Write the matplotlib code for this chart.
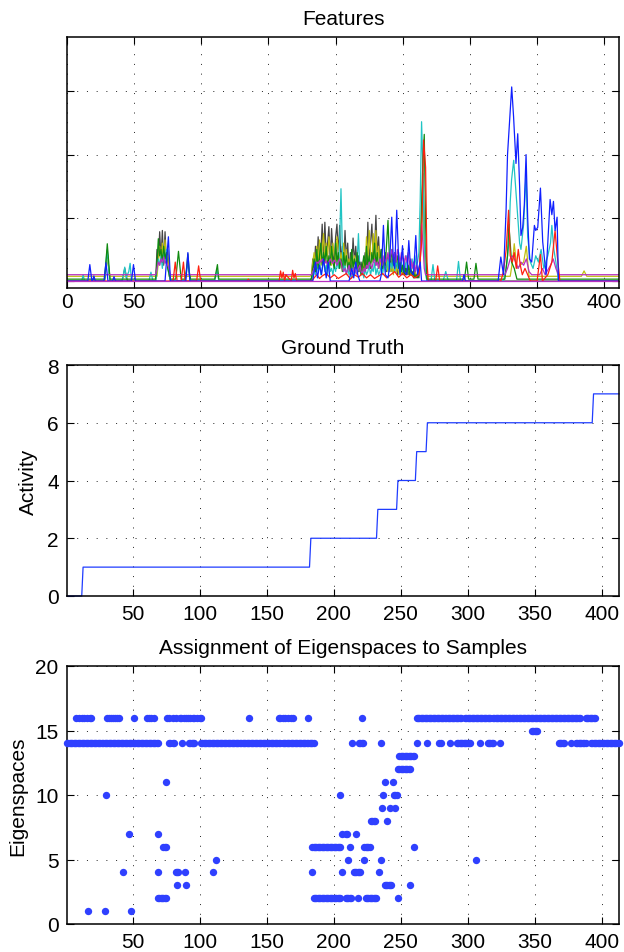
import numpy as np
import matplotlib
matplotlib.use('Agg')
import matplotlib.pyplot as plt

plt.rcParams['font.family'] = ['Liberation Sans', 'DejaVu Sans']

# ---------------- DATA ----------------
# Features panel (arbitrary units; grid lines at 1, 2, 3)
cluster_x = list(range(182, 269))

gray_early = [(0, 0), (28, 0), (30, 0.45), (32, 0), (41, 0), (43, 0.2), (45, 0), (66, 0), (67, 0.5), (68, 0.3),
              (69, 0.78), (70, 0.35), (71, 0.8), (72, 0.25), (73, 0.78), (74, 0.3), (75, 0.5), (76, 0.15),
              (77, 0), (181, 0)]
gray_cluster = [0.05, 0.35, 0.15, 0.55, 0.25, 0.7, 0.3, 0.45, 0.9, 0.35,
                0.93, 0.4, 0.6, 0.86, 0.3, 0.83, 0.45, 0.25, 0.7, 0.9,
                0.4, 0.88, 0.3, 0.55, 0.2, 0.8, 0.35, 0.6, 0.15, 0.45,
                0.2, 0.68, 0.3, 0.55, 0.2, 0.4, 0.15, 0.3, 0.1, 0.25,
                0.45, 0.2, 0.93, 0.3, 0.6, 0.9, 0.35, 0.5, 1.04, 0.4,
                0.7, 0.25, 0.5, 0.2, 0.35, 0.45, 0.15, 0.4, 0.2, 0.35,
                0.15, 0.4, 0.2, 0.3, 0.1, 0.35, 0.15, 0.25, 0.1, 0.3,
                0.1, 0.2, 0.1, 0.25, 0.1, 0.15, 0.05, 0.2, 0.05, 0.1,
                0.05, 0.3, 0.9, 1.7, 0.8, 0.3, 0.05]
gray_late = [(269, 0), (412, 0)]

olive_early = [(0, 0.075), (28, 0.075), (30, 0.35), (32, 0.075), (67, 0.075), (68, 0.3), (69, 0.55), (70, 0.3),
               (71, 0.6), (72, 0.35), (73, 0.65), (74, 0.3), (75, 0.4), (76, 0.075), (181, 0.075)]
olive_cluster = [0.1, 0.3, 0.45, 0.2, 0.55, 0.3, 0.65, 0.25, 0.5, 0.75,
                 0.3, 0.6, 0.35, 0.7, 0.5, 0.25, 0.6, 0.4, 0.3, 0.7,
                 0.5, 0.2, 0.45, 0.3, 0.6, 0.25, 0.5, 0.2, 0.35, 0.15,
                 0.45, 0.25, 0.4, 0.2, 0.3, 0.15, 0.25, 0.1, 0.2, 0.35,
                 0.15, 0.7, 0.3, 0.8, 0.45, 0.3, 0.75, 0.35, 0.8, 0.3,
                 0.55, 0.2, 0.4, 0.15, 0.3, 0.2, 0.35, 0.15, 0.3, 0.15,
                 0.25, 0.1, 0.3, 0.15, 0.25, 0.1, 0.2, 0.1, 0.2, 0.1,
                 0.15, 0.1, 0.2, 0.1, 0.15, 0.1, 0.1, 0.15, 0.1, 0.1,
                 0.1, 0.4, 1.0, 1.3, 0.6, 0.2, 0.1]
olive_late = [(269, 0.075), (330, 0.075), (332, 0.35), (333, 0.59), (335, 0.2), (340, 0.3), (342, 0.55),
              (344, 0.075), (383, 0.075), (385, 0.16), (387, 0.075), (412, 0.075)]

green_early = [(0, 0.03), (28, 0.03), (30, 0.59), (32, 0.03), (66, 0.03), (67, 0.3), (68, 0.67), (69, 0.4),
               (70, 0.5), (71, 0.3), (72, 0.55), (73, 0.35), (74, 0.45), (75, 0.2), (77, 0.03), (81, 0.03),
               (83, 0.47), (85, 0.03), (88, 0.03), (89, 0.2), (90, 0.43), (91, 0.15), (92, 0.03), (110, 0.03),
               (111, 0.15), (112, 0.26), (113, 0.03), (181, 0.03)]
green_cluster = [0.03, 0.2, 0.35, 0.15, 0.5, 0.2, 0.4, 0.6, 0.25, 0.45,
                 0.3, 0.55, 0.2, 0.4, 0.25, 0.55, 0.3, 0.2, 0.6, 0.3,
                 0.45, 0.2, 0.35, 0.15, 0.45, 0.25, 0.4, 0.2, 0.3, 0.15,
                 0.5, 0.2, 0.35, 0.2, 0.45, 0.15, 0.3, 0.1, 0.25, 0.4,
                 0.2, 0.55, 0.25, 0.4, 0.2, 0.45, 0.3, 0.6, 0.25, 0.45,
                 0.2, 0.35, 0.5, 0.2, 0.35, 0.25, 0.6, 0.96, 0.4, 0.3,
                 0.5, 0.25, 0.45, 0.3, 0.4, 0.2, 0.3, 0.15, 0.25, 0.1,
                 0.2, 0.1, 0.25, 0.1, 0.2, 0.1, 0.15, 0.05, 0.1, 0.05,
                 0.1, 0.4, 1.2, 1.9, 2.32, 0.9, 0.03]
green_late = [(269, 0.03), (296, 0.03), (297.5, 0.3), (299, 0.03), (303, 0.03), (304.5, 0.28), (306, 0.03),
              (326, 0.03), (328, 0.4), (329, 0.9), (331, 0.3), (333, 0.2), (335, 0.03), (412, 0.03)]

cyan_early = [(0, 0), (11, 0), (12, 0.1), (13, 0), (19, 0), (20, 0.06), (21, 0), (28, 0), (29, 0.3), (30, 0.5),
              (31, 0.2), (32, 0), (41, 0), (42, 0.1), (43, 0.22), (44, 0.05), (45, 0.1), (46, 0.15), (47, 0.28),
              (48, 0), (61, 0), (62.5, 0.14), (64, 0), (66, 0), (67, 0.2), (68, 0.35), (69, 0.25), (70, 0.4),
              (71, 0.2), (72, 0.45), (73, 0.3), (74, 0.5), (75, 0.2), (76, 0.1), (77, 0), (88, 0), (89, 0.15),
              (90, 0.3), (91, 0.1), (92, 0), (110, 0), (111.7, 0.18), (113, 0), (181, 0)]
cyan_cluster = [0, 0.1, 0.2, 0.1, 0.25, 0.15, 0.3, 0.1, 0.2, 0.35,
                0.15, 0.25, 0.1, 0.3, 0.15, 0.2, 0.1, 0.25, 0.15, 0.3,
                0.2, 0.6, 1.46, 0.5, 0.15, 0.25, 0.1, 0.2, 0.1, 0.15,
                0.05, 0.2, 0.1, 0.15, 0.3, 0.75, 0.2, 0.1, 0.15, 0.05,
                0.2, 0.1, 0.15, 0.25, 0.1, 0.2, 0.15, 0.3, 0.1, 0.2,
                0.1, 0.15, 0.25, 0.1, 0.3, 0.15, 0.2, 0.35, 0.15, 0.3,
                0.2, 0.4, 0.15, 0.35, 0.2, 0.45, 0.25, 0.3, 0.15, 0.35,
                0.2, 0.4, 0.15, 0.3, 0.2, 0.35, 0.15, 0.4, 0.25, 0.3,
                0.45, 1.3, 2.52, 1.8, 0.6, 0.1, 0]
cyan_late = [(269, 0), (271, 0), (272.5, 0.26), (274, 0), (280, 0), (282, 0.15), (284, 0), (290, 0),
             (291.5, 0.31), (293, 0), (325, 0), (327, 0.2), (329, 0.6), (330, 1.25), (331, 1.6), (332.6, 1.91),
             (334, 1.5), (336, 0.9), (337, 0.6), (338, 0.5), (340, 0.9), (341.8, 1.7), (343, 0.7), (345, 0.3),
             (347, 0.2), (349, 0.4), (351, 0.3), (353, 0.5), (355, 0.2), (358, 0.4), (360, 0.6), (361, 0.88),
             (362.5, 0.5), (364, 0.3), (366, 0), (412, 0)]

magenta_early = [(0, 0.1), (66, 0.1), (67, 0.2), (68, 0.3), (69, 0.25), (70, 0.35), (71, 0.3), (72, 0.38),
                 (73, 0.28), (74, 0.33), (75, 0.25), (76, 0.2), (77, 0.1), (181, 0.1)]
magenta_cluster = [0.1, 0.15, 0.2, 0.25, 0.3, 0.28, 0.32, 0.3, 0.35, 0.3,
                   0.28, 0.32, 0.25, 0.3, 0.35, 0.3, 0.28, 0.33, 0.3, 0.25,
                   0.3, 0.35, 0.3, 0.2, 0.15, 0.2, 0.12, 0.18, 0.25, 0.15,
                   0.1, 0.15, 0.22, 0.15, 0.1, 0.2, 0.25, 0.15, 0.12, 0.2,
                   0.15, 0.25, 0.2, 0.3, 0.25, 0.2, 0.3, 0.35, 0.25, 0.3,
                   0.2, 0.35, 0.3, 0.25, 0.4, 0.3, 0.35, 0.45, 0.3, 0.4,
                   0.5, 0.35, 0.45, 0.3, 0.5, 0.4, 0.3, 0.45, 0.35, 0.25,
                   0.4, 0.3, 0.45, 0.25, 0.35, 0.2, 0.3, 0.15, 0.25, 0.15,
                   0.1, 0.4, 0.9, 0.6, 0.2, 0.1, 0.1]
magenta_late = [(269, 0.1), (326, 0.1), (328, 0.2), (330, 0.35), (332, 0.4), (334, 0.3), (336, 0.2), (338, 0.3),
                (340, 0.25), (342, 0.35), (344, 0.15), (346, 0.1), (352, 0.1), (354, 0.2), (356, 0.1), (360, 0.25),
                (362, 0.35), (364, 0.2), (366, 0.1), (412, 0.1)]

red_pts = [(0, 0), (79, 0), (80.6, 0.3), (82, 0), (85, 0), (86.7, 0.3), (88, 0), (96.5, 0), (98, 0.24), (99.5, 0),
           (134, 0), (135, 0.03), (136, 0), (158, 0), (159, 0.16), (160, 0.05), (161, 0.14), (162, 0), (163, 0.1),
           (165, 0.05), (167, 0), (168, 0.17), (169, 0.05), (170, 0.12), (171, 0), (182, 0), (184, 0.05),
           (186, 0.1), (188, 0.04), (190, 0.08), (193, 0.12), (196, 0.05), (199, 0.1), (202, 0.04), (205, 0.08),
           (208, 0.12), (211, 0.03), (214, 0.1), (217, 0.06), (220, 0.12), (223, 0.05), (226, 0.1), (229, 0.04),
           (232, 0.08), (235, 0.12), (238, 0.05), (241, 0.1), (244, 0.15), (247, 0.06), (250, 0.12), (253, 0.05),
           (256, 0.1), (259, 0.05), (262, 0.1), (264, 0.6), (265.5, 2.23), (267, 1.8), (268, 0.3), (269, 0),
           (274.5, 0), (276, 0.24), (277.5, 0), (320, 0), (323, 0), (325, 0.15), (327, 0.5), (328.8, 1.12),
           (330, 0.4), (331.5, 0.3), (333, 0.45), (334.5, 0.2), (336, 0.5), (337.5, 0.25), (339, 0.1),
           (341, 0.2), (343, 0.1), (345, 0), (350, 0), (352.5, 0.42), (354, 0), (358, 0.1), (361, 0.3),
           (363.4, 0.8), (365, 0.4), (367, 0), (412, 0)]

blue_pts = [(0, 0), (15.5, 0), (17, 0.26), (18.5, 0), (19, 0), (20, 0.08), (21, 0), (27.5, 0), (29, 0.29),
            (30.5, 0), (34, 0), (35, 0.07), (36, 0), (48, 0), (49.5, 0.26), (51, 0), (73, 0), (74, 0.3),
            (75.5, 0.7), (77, 0), (88.5, 0), (90, 0.45), (91.5, 0), (183, 0), (185, 0.3), (186.5, 0.05),
            (188, 0.25), (189.5, 0.1), (191, 0.35), (193, 0.05), (194.5, 0.3), (196, 0), (210, 0), (212, 0.2),
            (213.5, 0.05), (215, 0.3), (216.5, 0.1), (218, 0), (233, 0), (234, 0.1), (235.6, 0.88), (237, 0.1),
            (239, 0.05), (240, 0.2), (241.8, 1.01), (243, 0.3), (244, 0.2), (245.5, 1.12), (247, 0.3),
            (248, 0.1), (249.8, 0.56), (251, 0.15), (253, 0.1), (254.5, 0.64), (256, 0.15), (258, 0.1),
            (259.7, 0.72), (261, 0.1), (263, 0.3), (264, 0), (294.5, 0), (295.6, 0.1), (296.7, 0), (321, 0),
            (323, 0.38), (325, 0.1), (326.9, 1.1), (328, 2.0), (331.1, 3.07), (332.5, 2.6), (334.3, 1.86),
            (335.6, 2.33), (337, 1.5), (338, 0.72), (339.3, 0.85), (340.5, 1.2), (341.8, 2.0), (343, 1.0),
            (344.3, 0.35), (346, 0.3), (348, 0.88), (349, 0.8), (350.5, 0.85), (352.5, 1.47), (354.2, 0.62),
            (356.7, 0.1), (359.7, 1.29), (361, 1.05), (362.2, 1.26), (363.4, 0.8), (364.9, 1.01), (365.9, 0),
            (412, 0)]

magenta0_pts = [(0, 0), (412, 0)]

# Ground truth: activity level and first sample of each level
gt_levels = [0, 1, 2, 3, 4, 5, 6, 7]
gt_starts = [1, 13, 183, 233, 248, 262, 270, 394]
gt_last_sample = 413

# Eigenspace assignments: (first sample, last sample) runs for each eigenspace
eig16 = [(8, 8), (10, 10), (12, 12), (14, 14), (16, 16), (18, 19), (31, 32), (34, 35), (37, 38), (40, 40),
         (51, 51), (61, 62), (64, 64), (66, 66), (76, 77), (80, 80), (82, 82), (85, 86), (88, 88), (90, 91),
         (93, 93), (95, 96), (98, 98), (100, 101), (137, 137), (159, 160), (162, 162), (164, 164), (166, 166),
         (168, 168), (170, 170), (181, 181), (221, 221), (262, 295), (298, 317), (319, 384), (388, 395)]
eig15 = [(348, 352)]
eig14 = [(1, 69), (77, 78), (80, 81), (87, 87), (92, 96), (101, 160), (162, 185), (214, 214), (219, 222),
         (235, 235), (262, 262), (270, 270), (279, 280), (287, 287), (292, 302), (309, 309), (315, 319),
         (324, 324), (368, 372), (377, 377), (381, 388), (392, 413)]
eig13 = [(249, 260)]
eig12 = [(248, 257)]
eig11 = [(75, 75), (238, 238), (244, 244)]
eig10 = [(30, 30), (205, 205), (237, 237), (245, 247)]
eig9 = [(236, 236), (242, 242), (246, 246)]
eig8 = [(228, 231), (240, 240)]
eig7 = [(47, 47), (69, 69), (206, 206), (209, 210), (217, 217)]
eig6 = [(73, 75), (184, 205), (212, 212), (223, 227), (260, 260)]
eig5 = [(112, 112), (211, 211), (223, 223), (235, 235), (306, 306)]
eig4 = [(43, 43), (69, 69), (82, 84), (89, 89), (110, 110), (184, 184), (206, 206), (215, 220), (234, 234)]
eig3 = [(83, 83), (90, 90), (238, 243), (257, 257)]
eig2 = [(69, 75), (185, 205), (209, 213), (218, 218), (224, 232), (248, 248)]
eig1 = [(17, 17), (29, 29), (49, 49)]

# ---------------- STYLE ----------------
C_BLUE = '#1020FF'
C_GREEN = '#108A10'
C_RED = '#FF2010'
C_CYAN = '#20C4C4'
C_MAG = '#B830C0'
C_OLIVE = '#BFBF10'
C_GRAY = '#454545'
DOT = '#2f40ff'
GRID_LS = (0, (1, 9))
FS = 15


def style(ax):
    ax.tick_params(direction='in', top=True, right=True, length=5, width=0.8,
                   labelsize=FS, colors='black')
    ax.grid(True, color='#222222', linestyle=GRID_LS, linewidth=0.7)
    ax.set_axisbelow(True)
    for s in ax.spines.values():
        s.set_linewidth(1.1)


fig = plt.figure(figsize=(6.24, 9.53), dpi=100)
W, H = 624.0, 953.0
ax1 = fig.add_axes([67 / W, 1 - 289 / H, 552 / W, 251 / H])
ax2 = fig.add_axes([67 / W, 1 - 597 / H, 552 / W, 231 / H])
ax3 = fig.add_axes([67 / W, 1 - 925 / H, 552 / W, 258 / H])

# ---- Features ----
def series(early, cluster_vals, late):
    xs = [p[0] for p in early] + cluster_x + [p[0] for p in late]
    ys = [p[1] for p in early] + cluster_vals + [p[1] for p in late]
    return xs, ys

lw = 0.9
for early, cl, late, col in [(gray_early, gray_cluster, gray_late, C_GRAY),
                             (olive_early, olive_cluster, olive_late, C_OLIVE),
                             (cyan_early, cyan_cluster, cyan_late, C_CYAN),
                             (green_early, green_cluster, green_late, C_GREEN),
                             (magenta_early, magenta_cluster, magenta_late, C_MAG)]:
    xs, ys = series(early, cl, late)
    ax1.plot(xs, ys, color=col, lw=lw)
for pts, col in [(red_pts, C_RED), (blue_pts, C_BLUE), (magenta0_pts, C_MAG)]:
    ax1.plot([p[0] for p in pts], [p[1] for p in pts], color=col, lw=lw)

ax1.set_xlim(0, 411)
ax1.set_ylim(-0.11, 3.86)
ax1.set_xticks(np.arange(0, 401, 50))
ax1.set_yticks([0, 1, 2, 3])
ax1.set_yticklabels([])
style(ax1)
ax1.tick_params(axis='x', pad=3)
ax1.set_title('Features', fontsize=FS, pad=9)

# ---- Ground truth ----
samples = np.arange(1, gt_last_sample + 1)
bounds = gt_starts[1:] + [gt_last_sample + 1]
activity = np.concatenate([np.full(b - a, lv) for a, b, lv in zip(gt_starts, bounds, gt_levels)])
ax2.plot(samples, activity, color='#1f3cff', lw=0.9, clip_on=False)
ax2.set_xlim(1, 413)
ax2.set_ylim(0, 8)
ax2.set_xticks(np.arange(50, 401, 50))
ax2.set_yticks([0, 2, 4, 6, 8])
style(ax2)
ax2.tick_params(axis='x', pad=6)
ax2.tick_params(axis='y', pad=6)
ax2.set_title('Ground Truth', fontsize=FS, pad=9)
ax2.set_ylabel('Activity', fontsize=FS)
ax2.yaxis.set_label_coords(-0.052, 0.5)

# ---- Eigenspace assignment ----
all_runs = [(16, eig16), (15, eig15), (14, eig14), (13, eig13), (12, eig12), (11, eig11), (10, eig10),
            (9, eig9), (8, eig8), (7, eig7), (6, eig6), (5, eig5), (4, eig4), (3, eig3), (2, eig2), (1, eig1)]
for space, runs in all_runs:
    xs = np.concatenate([np.arange(a, b + 1) for a, b in runs])
    ax3.plot(xs, np.full(len(xs), space), 'o', ms=5.3, color=DOT, mec='none', clip_on=False, zorder=3)
ax3.set_xlim(1, 413)
ax3.set_ylim(0, 20)
ax3.set_xticks(np.arange(50, 401, 50))
ax3.set_yticks([0, 5, 10, 15, 20])
style(ax3)
ax3.tick_params(axis='x', pad=6)
ax3.tick_params(axis='y', pad=6)
ax3.set_title('Assignment of Eigenspaces to Samples', fontsize=FS, pad=9)
ax3.set_ylabel('Eigenspaces', fontsize=FS)
ax3.yaxis.set_label_coords(-0.072, 0.5)

fig.savefig('out.png', dpi=100)
